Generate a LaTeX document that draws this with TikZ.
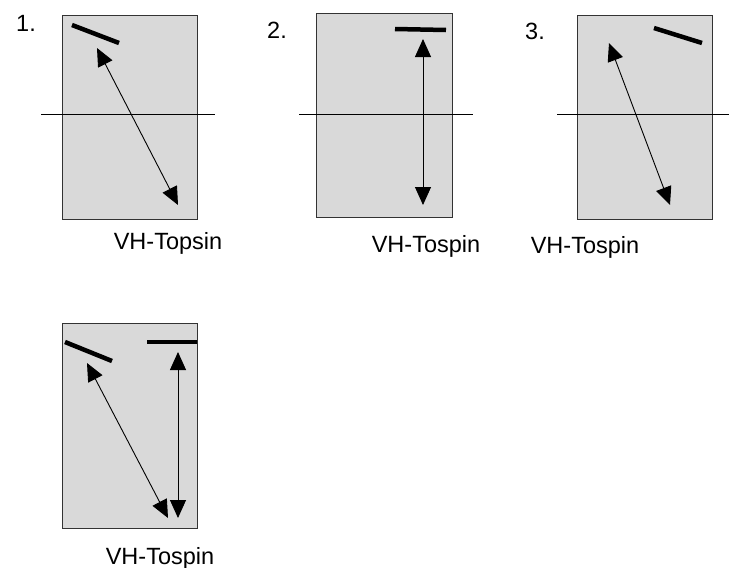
\documentclass[tikz,border=0pt]{standalone}
\usepackage{fontspec}
\setmainfont{Liberation Sans}
\usetikzlibrary{arrows.meta}
\definecolor{panelgray}{HTML}{D9D9D9}
\definecolor{edgegray}{HTML}{333333}
\begin{document}
\begin{tikzpicture}[x=1pt,y=-1pt,
  panel/.style={fill=panelgray,draw=edgegray,line width=0.9pt},
  axisline/.style={draw=black,line width=0.9pt},
  bar/.style={draw=black,line width=4.5pt,line cap=butt},
  ray/.style={draw=black,line width=0.9pt,{Triangle[length=18pt,width=16pt]}-{Triangle[length=18pt,width=16pt]}},
  lbl/.style={font=\fontsize{23.5}{28}\selectfont,inner sep=0pt,anchor=base},
  num/.style={font=\fontsize{23.5}{28}\selectfont,inner sep=0pt,anchor=base west}]
\useasboundingbox (0,0) rectangle (729,568);
\path[fill=white] (0,0) rectangle (729,568);

% Panel 1
\coordinate (p1a) at (62,15); \coordinate (p1b) at (197,219);
\path[panel] (p1a) rectangle (p1b);
\coordinate (h1a) at (41,114); \coordinate (h1b) at (215,114);
\draw[axisline] (h1a) -- (h1b);
\coordinate (b1a) at (72,25); \coordinate (b1b) at (119,43);
\draw[bar] (b1a) -- (b1b);
\coordinate (r1a) at (97,48); \coordinate (r1b) at (178,205);
\draw[ray] (r1a) -- (r1b);
\node[num] (n1) at (16,31) {1.};
\node[lbl] (l1) at (168,249) {VH-Topsin};

% Panel 2
\coordinate (p2a) at (316,13); \coordinate (p2b) at (452,217);
\path[panel] (p2a) rectangle (p2b);
\coordinate (h2a) at (299,114); \coordinate (h2b) at (473,114);
\draw[axisline] (h2a) -- (h2b);
\coordinate (b2a) at (395,29); \coordinate (b2b) at (446,30);
\draw[bar] (b2a) -- (b2b);
\coordinate (r2a) at (423,39); \coordinate (r2b) at (423,205);
\draw[ray] (r2a) -- (r2b);
\node[num] (n2) at (267,38) {2.};
\node[lbl] (l2) at (426,252) {VH-Tospin};

% Panel 3
\coordinate (p3a) at (577,15); \coordinate (p3b) at (712,219);
\path[panel] (p3a) rectangle (p3b);
\coordinate (h3a) at (557,114); \coordinate (h3b) at (729,114);
\draw[axisline] (h3a) -- (h3b);
\coordinate (b3a) at (654,28); \coordinate (b3b) at (702,43);
\draw[bar] (b3a) -- (b3b);
\coordinate (r3a) at (609,43); \coordinate (r3b) at (670,205);
\draw[ray] (r3a) -- (r3b);
\node[num] (n3) at (525,39) {3.};
\node[lbl] (l3) at (585,253) {VH-Tospin};

% Panel 4
\coordinate (p4a) at (62,323); \coordinate (p4b) at (197,528);
\path[panel] (p4a) rectangle (p4b);
\coordinate (b4a) at (65,342); \coordinate (b4b) at (112,361);
\draw[bar] (b4a) -- (b4b);
\coordinate (b4c) at (147,342); \coordinate (b4d) at (197,342);
\draw[bar] (b4c) -- (b4d);
\coordinate (r4a) at (87,363); \coordinate (r4b) at (168,518);
\draw[ray] (r4a) -- (r4b);
\coordinate (r4c) at (178,352); \coordinate (r4d) at (178,518);
\draw[ray] (r4c) -- (r4d);
\node[lbl] (l4) at (160,564) {VH-Tospin};
\end{tikzpicture}
\end{document}
